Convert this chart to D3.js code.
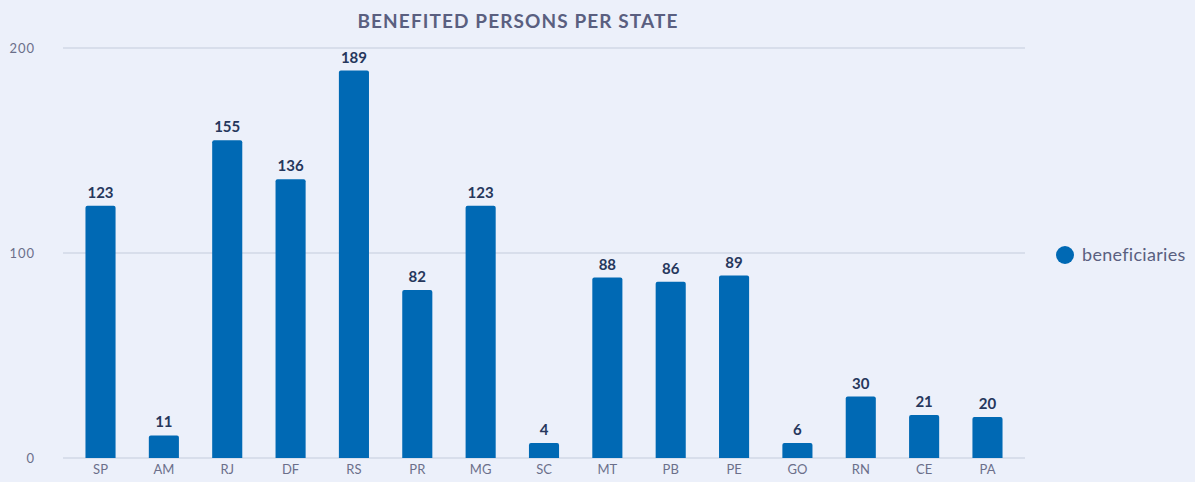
<!DOCTYPE html>
<html><head><meta charset="utf-8">
<script src="https://cdn.jsdelivr.net/npm/d3@7"></script>
<style>
html,body{margin:0;padding:0;background:#ecf0fa;}
svg{display:block;font-family:Lato, "Open Sans", sans-serif;}
</style></head>
<body>
<svg id="chart" width="1195" height="482"></svg>
<script>
const categories = ["SP","AM","RJ","DF","RS","PR","MG","SC","MT","PB","PE","GO","RN","CE","PA"];
const beneficiaries = [123,11,155,136,189,82,123,4,88,86,89,6,30,21,20];
const yTicks = [0,100,200];
const seriesName = "beneficiaries";
const title = "BENEFITED PERSONS PER STATE";

const svg = d3.select("#chart");
const W = 1195, H = 482;
svg.append("rect").attr("width",W).attr("height",H).attr("fill","#ecf0fa");

const x = d3.scaleBand().domain(categories).range([69,1019]).paddingInner(0.525).paddingOuter(0.26);
const y = d3.scaleLinear().domain([0,200]).range([458,48]);
const minBar = 15;
const barTop = v => Math.min(y(v), y(0) - minBar);

// grid
svg.append("g").selectAll("line").data(yTicks).join("line")
  .attr("x1",63).attr("x2",1025)
  .attr("y1",d=>y(d)).attr("y2",d=>y(d))
  .attr("stroke","#d2d8e6").attr("stroke-width",1.5);

// y axis labels
const yAxis = d3.axisLeft(y).tickValues(yTicks).tickSize(0).tickPadding(0);
const gy = svg.append("g").attr("transform","translate(35,0)").call(yAxis);
gy.select(".domain").remove();
gy.selectAll("text").attr("fill","#6b6f8a").attr("font-size",13).attr("font-family","Lato, sans-serif").attr("letter-spacing","1px");

// x axis labels
const xAxis = d3.axisBottom(x).tickSize(0).tickPadding(0);
const gx = svg.append("g").attr("transform","translate(0,465)").call(xAxis);
gx.select(".domain").remove();
gx.selectAll("text").attr("fill","#6b6f8a").attr("font-size",13).attr("font-family","Lato, sans-serif");

// bars
const data = categories.map((c,i)=>({c,v:beneficiaries[i]}));
svg.append("g").selectAll("path").data(data).join("path")
  .attr("fill","#0069b4")
  .attr("d",d=>{
    const x0=x(d.c), w=x.bandwidth(), y0=barTop(d.v), yb=y(0), r=2;
    return `M${x0},${yb}V${y0+r}Q${x0},${y0} ${x0+r},${y0}H${x0+w-r}Q${x0+w},${y0} ${x0+w},${y0+r}V${yb}Z`;
  });

// value labels
svg.append("g").selectAll("text").data(data).join("text")
  .attr("x",d=>x(d.c)+x.bandwidth()/2)
  .attr("y",d=>barTop(d.v)-8)
  .attr("text-anchor","middle")
  .attr("font-size",15).attr("font-weight",700)
  .attr("fill","#26375c")
  .text(d=>d.v);

// title
svg.append("text").attr("x",518).attr("y",28).attr("text-anchor","middle")
  .attr("font-size",19).attr("font-weight",700).attr("letter-spacing","1.1px").attr("fill","#5a5f80")
  .text(title);

// legend
svg.append("circle").attr("cx",1065).attr("cy",255).attr("r",9).attr("fill","#0069b4");
svg.append("text").attr("x",1082).attr("y",261).attr("font-size",18).attr("letter-spacing","0.3px").attr("fill","#5a5f80").text(seriesName);
</script>
</body></html>
